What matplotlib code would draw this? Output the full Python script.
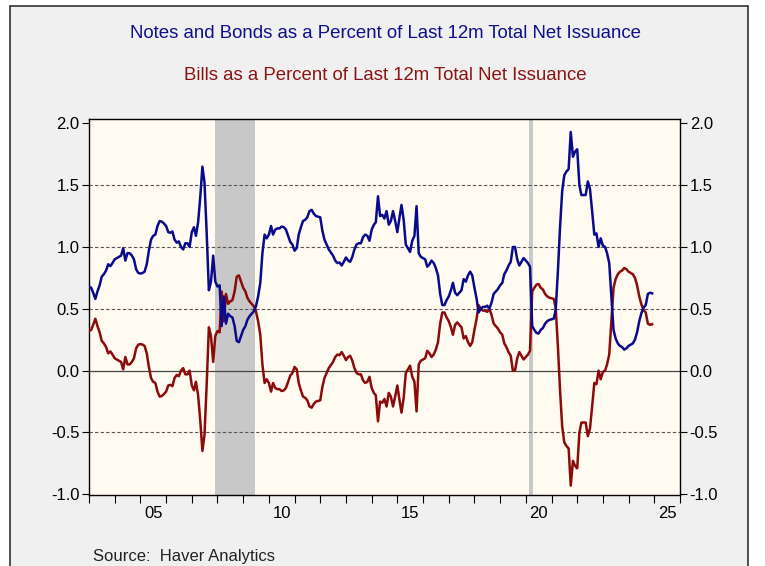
import matplotlib
matplotlib.use("Agg")
import matplotlib.pyplot as plt
import matplotlib.dates as mdates
import pandas as pd
from matplotlib.patches import Rectangle

# monthly, starting Jan 2003
start = "2003-01-01"
notes = [
    0.68, 0.67, 0.63, 0.58, 0.64, 0.69, 0.76, 0.78, 0.81, 0.86, 0.845, 0.87,
    0.90, 0.91, 0.92, 0.93, 0.99, 0.89, 0.95, 0.95, 0.93, 0.90, 0.82, 0.79,
    0.785, 0.79, 0.80, 0.86, 0.97, 1.06, 1.09, 1.10, 1.17, 1.21, 1.205, 1.19,
    1.17, 1.12, 1.115, 1.125, 1.06, 1.035, 1.045, 1.00, 0.98, 1.03, 1.03, 1.00,
    1.12, 1.16, 1.09, 1.20, 1.40, 1.65, 1.52, 1.11, 0.65, 0.72, 0.93, 0.72,
    0.68, 0.69, 0.36, 0.60, 0.38, 0.46, 0.44, 0.43, 0.36, 0.24, 0.23, 0.28,
    0.33, 0.36, 0.41, 0.44, 0.46, 0.48, 0.52, 0.60, 0.71, 0.95, 1.10, 1.07,
    1.10, 1.17, 1.10, 1.14, 1.15, 1.15, 1.165, 1.16, 1.14, 1.09, 1.04, 1.02,
    0.97, 0.99, 1.10, 1.16, 1.21, 1.22, 1.24, 1.29, 1.30, 1.27, 1.25, 1.245,
    1.24, 1.13, 1.06, 1.02, 0.98, 0.955, 0.93, 0.89, 0.87, 0.875, 0.85, 0.88,
    0.915, 0.89, 0.88, 0.92, 0.98, 1.02, 1.03, 1.03, 1.08, 1.10, 1.09, 1.05,
    1.14, 1.18, 1.20, 1.41, 1.25, 1.26, 1.23, 1.29, 1.18, 1.21, 1.29, 1.21,
    1.12, 1.24, 1.34, 1.22, 1.02, 0.99, 0.96, 1.05, 1.09, 1.33, 0.95, 0.92,
    0.91, 0.90, 0.84, 0.86, 0.89, 0.87, 0.83, 0.77, 0.62, 0.53, 0.53, 0.57,
    0.60, 0.65, 0.71, 0.63, 0.61, 0.63, 0.65, 0.74, 0.72, 0.77, 0.80, 0.77,
    0.67, 0.58, 0.47, 0.50, 0.515, 0.515, 0.525, 0.50, 0.55, 0.62, 0.64, 0.66,
    0.69, 0.71, 0.78, 0.81, 0.85, 0.88, 1.00, 1.00, 0.90, 0.85, 0.88, 0.91,
    0.89, 0.87, 0.84, 0.36, 0.33, 0.305, 0.30, 0.33, 0.345, 0.38, 0.40, 0.41,
    0.415, 0.42, 0.49, 0.80, 1.15, 1.45, 1.58, 1.61, 1.63, 1.93, 1.73, 1.77,
    1.79, 1.50, 1.42, 1.42, 1.42, 1.53, 1.47, 1.29, 1.10, 1.11, 1.00, 1.07,
    1.01, 1.00, 0.95, 0.87, 0.60, 0.33, 0.26, 0.22, 0.20, 0.19, 0.17, 0.18,
    0.20, 0.21, 0.22, 0.25, 0.31, 0.40, 0.465, 0.51, 0.53, 0.62, 0.63, 0.625,
]
bills = [
    0.32, 0.33, 0.37, 0.42, 0.36, 0.31, 0.24, 0.22, 0.19, 0.14, 0.155, 0.13,
    0.10, 0.09, 0.08, 0.07, 0.01, 0.11, 0.05, 0.05, 0.07, 0.10, 0.18, 0.21,
    0.215, 0.21, 0.20, 0.14, 0.03, -0.06, -0.09, -0.10, -0.17, -0.21, -0.205, -0.19,
    -0.17, -0.12, -0.115, -0.125, -0.06, -0.035, -0.045, 0.00, 0.02, -0.03, -0.03, 0.00,
    -0.12, -0.16, -0.09, -0.20, -0.40, -0.65, -0.52, -0.11, 0.35, 0.28, 0.07, 0.28,
    0.32, 0.31, 0.64, 0.40, 0.62, 0.54, 0.56, 0.57, 0.64, 0.76, 0.77, 0.72,
    0.67, 0.64, 0.59, 0.56, 0.54, 0.52, 0.48, 0.40, 0.29, 0.05, -0.10, -0.07,
    -0.10, -0.17, -0.10, -0.14, -0.15, -0.15, -0.165, -0.16, -0.14, -0.09, -0.04, -0.02,
    0.03, 0.01, -0.10, -0.16, -0.21, -0.22, -0.24, -0.29, -0.30, -0.27, -0.25, -0.245,
    -0.24, -0.13, -0.06, -0.02, 0.02, 0.045, 0.07, 0.11, 0.13, 0.125, 0.15, 0.12,
    0.085, 0.11, 0.12, 0.08, 0.02, -0.02, -0.03, -0.03, -0.08, -0.10, -0.09, -0.05,
    -0.14, -0.18, -0.20, -0.41, -0.25, -0.26, -0.23, -0.29, -0.18, -0.21, -0.29, -0.21,
    -0.12, -0.24, -0.34, -0.22, -0.02, 0.01, 0.04, -0.05, -0.09, -0.33, 0.05, 0.08,
    0.09, 0.10, 0.16, 0.14, 0.11, 0.13, 0.17, 0.23, 0.38, 0.47, 0.47, 0.43,
    0.40, 0.35, 0.29, 0.37, 0.39, 0.37, 0.35, 0.26, 0.28, 0.23, 0.20, 0.23,
    0.33, 0.42, 0.53, 0.50, 0.485, 0.485, 0.475, 0.50, 0.45, 0.38, 0.36, 0.34,
    0.31, 0.29, 0.22, 0.19, 0.15, 0.12, 0.00, 0.00, 0.10, 0.15, 0.12, 0.09,
    0.11, 0.13, 0.16, 0.64, 0.67, 0.695, 0.70, 0.67, 0.655, 0.62, 0.60, 0.59,
    0.585, 0.58, 0.51, 0.20, -0.15, -0.45, -0.58, -0.61, -0.63, -0.93, -0.73, -0.77,
    -0.79, -0.50, -0.42, -0.42, -0.42, -0.53, -0.47, -0.29, -0.10, -0.11, 0.00, -0.07,
    -0.01, 0.00, 0.05, 0.13, 0.40, 0.67, 0.74, 0.78, 0.80, 0.81, 0.83, 0.82,
    0.80, 0.79, 0.78, 0.75, 0.69, 0.60, 0.535, 0.49, 0.47, 0.38, 0.37, 0.375,
]
recessions = [("2007-12-01", "2009-06-15"), ("2020-02-10", "2020-04-15")]
year_labels = ["05", "10", "15", "20", "25"]
label_years = [2005, 2010, 2015, 2020, 2025]

dates = pd.date_range(start, periods=len(notes), freq="MS")

plt.rcParams["font.family"] = ["Liberation Sans", "DejaVu Sans"]

fig = plt.figure(figsize=(7.65, 5.66), dpi=100, facecolor="white")
fig.patches.append(Rectangle((10 / 765, -0.01), 738 / 765, 1 - 6 / 566 + 0.01,
                             transform=fig.transFigure, facecolor="#f0f0f0",
                             edgecolor="#333333", linewidth=1.2, zorder=-1))

ax = fig.add_axes([89 / 765, 1 - 495 / 566, 591 / 765, 376 / 566])
ax.set_zorder(2)
ax.set_facecolor("#fffbf0")

for a, b in recessions:
    ax.axvspan(pd.Timestamp(a), pd.Timestamp(b), color="#c8c8c8", lw=0, zorder=1)

for y in [-0.5, 0.5, 1.0, 1.5]:
    ax.axhline(y, color="#555555", lw=0.8, ls=(0, (3, 2)), zorder=2)
ax.axhline(0, color="#444444", lw=0.9, zorder=2)

ax.plot(dates, notes, color="#0a0a8c", lw=1.8, zorder=4)
ax.plot(dates, bills, color="#8b0a0a", lw=1.8, zorder=3)

ax.set_xlim(pd.Timestamp("2003-01-01"), pd.Timestamp("2026-01-01"))
ax.set_ylim(-1.006, 2.035)

ax.xaxis.set_major_locator(mdates.YearLocator(1))
ax.xaxis.set_major_formatter(plt.NullFormatter())
ax.set_xticks([pd.Timestamp(f"{y}-07-01") for y in label_years], minor=True)
ax.set_xticklabels(year_labels, minor=True)
ax.tick_params(axis="x", which="major", direction="out", length=6, width=0.8)
ax.tick_params(axis="x", which="minor", length=0, pad=8, labelsize=12)

ax.set_yticks([-1.0, -0.5, 0.0, 0.5, 1.0, 1.5, 2.0])
ax.yaxis.set_major_formatter(plt.FuncFormatter(lambda v, p: f"{v:.1f}"))
ax.tick_params(axis="y", direction="out", length=5, width=0.8, labelsize=12,
               left=True, right=True, labelleft=True, labelright=True, pad=2)

for s in ax.spines.values():
    s.set_color("black")
    s.set_linewidth(1.0)

fig.text(385 / 765, 1 - 34 / 566, "Notes and Bonds as a Percent of Last 12m Total Net Issuance",
         ha="center", va="center", color="#10108c", fontsize=13.4)
fig.text(385 / 765, 1 - 75 / 566, "Bills as a Percent of Last 12m Total Net Issuance",
         ha="center", va="center", color="#8b1414", fontsize=13.4)
fig.text(93 / 765, 1 - 557 / 566, "Source:  Haver Analytics",
         ha="left", va="center", color="#222222", fontsize=12)

fig.savefig("out.png", dpi=100, facecolor=fig.get_facecolor())
